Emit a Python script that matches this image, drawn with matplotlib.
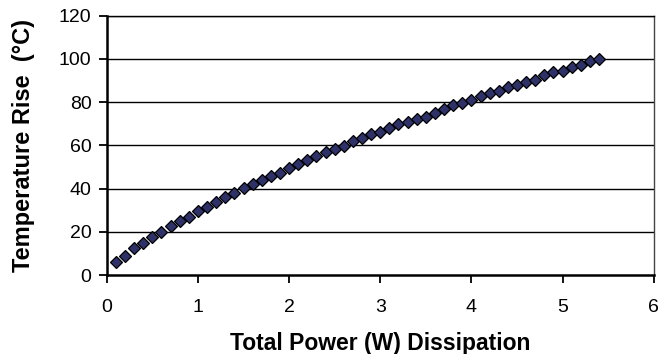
import matplotlib
matplotlib.use('Agg')
import matplotlib.pyplot as plt

plt.rcParams['font.family'] = ['Liberation Sans', 'DejaVu Sans']

power = [0.1, 0.2, 0.3, 0.4, 0.5, 0.6, 0.7, 0.8, 0.9, 1.0,
         1.1, 1.2, 1.3, 1.4, 1.5, 1.6, 1.7, 1.8, 1.9, 2.0,
         2.1, 2.2, 2.3, 2.4, 2.5, 2.6, 2.7, 2.8, 2.9, 3.0,
         3.1, 3.2, 3.3, 3.4, 3.5, 3.6, 3.7, 3.8, 3.9, 4.0,
         4.1, 4.2, 4.3, 4.4, 4.5, 4.6, 4.7, 4.8, 4.9, 5.0,
         5.1, 5.2, 5.3, 5.4]
temp_rise = [6.1, 9.0, 12.3, 14.9, 17.4, 20.0, 22.5, 25.0, 27.0, 29.7,
             31.5, 34.0, 35.9, 38.0, 40.3, 42.2, 44.0, 45.6, 47.4, 49.3,
             51.2, 53.0, 55.0, 57.0, 58.5, 59.7, 61.8, 63.3, 65.3, 66.1,
             67.9, 69.7, 71.0, 72.3, 73.0, 75.1, 76.6, 78.5, 79.7, 80.9,
             83.0, 84.0, 85.3, 87.0, 87.8, 89.4, 90.2, 92.5, 93.8, 94.5,
             96.4, 97.2, 99.2, 100.0]

xticks = [0, 1, 2, 3, 4, 5, 6]
yticks = [0, 20, 40, 60, 80, 100, 120]

fig = plt.figure(figsize=(6.59, 3.54), dpi=100)
ax = fig.add_axes([0.162, 0.223, 0.830, 0.733])

for y in yticks[1:]:
    ax.axhline(y, color='black', lw=1.0, zorder=1)

ax.plot(power, temp_rise, linestyle='none', marker='D', markersize=6.2,
        markerfacecolor='#2e3168', markeredgecolor='black', markeredgewidth=0.9,
        zorder=3)

ax.set_xlim(0, 6)
ax.set_ylim(0, 120)
ax.set_xticks(xticks)
ax.set_yticks(yticks)
ax.tick_params(axis='both', direction='out', length=6, width=1.3,
               labelsize=14, colors='black')
ax.tick_params(axis='y', pad=5)
ax.tick_params(axis='x', pad=11)

ax.spines['left'].set_linewidth(1.8)
ax.spines['bottom'].set_linewidth(1.8)
ax.spines['top'].set_linewidth(1.0)
ax.spines['right'].set_linewidth(1.0)
ax.spines['right'].set_color('#444444')

ax.set_xlabel('Total Power (W) Dissipation', fontsize=16.5, fontweight='bold', labelpad=12)
ax.set_ylabel('Temperature Rise  (\u00b0C)', fontsize=17, fontweight='bold', labelpad=17)

fig.savefig('out.png', dpi=100)
